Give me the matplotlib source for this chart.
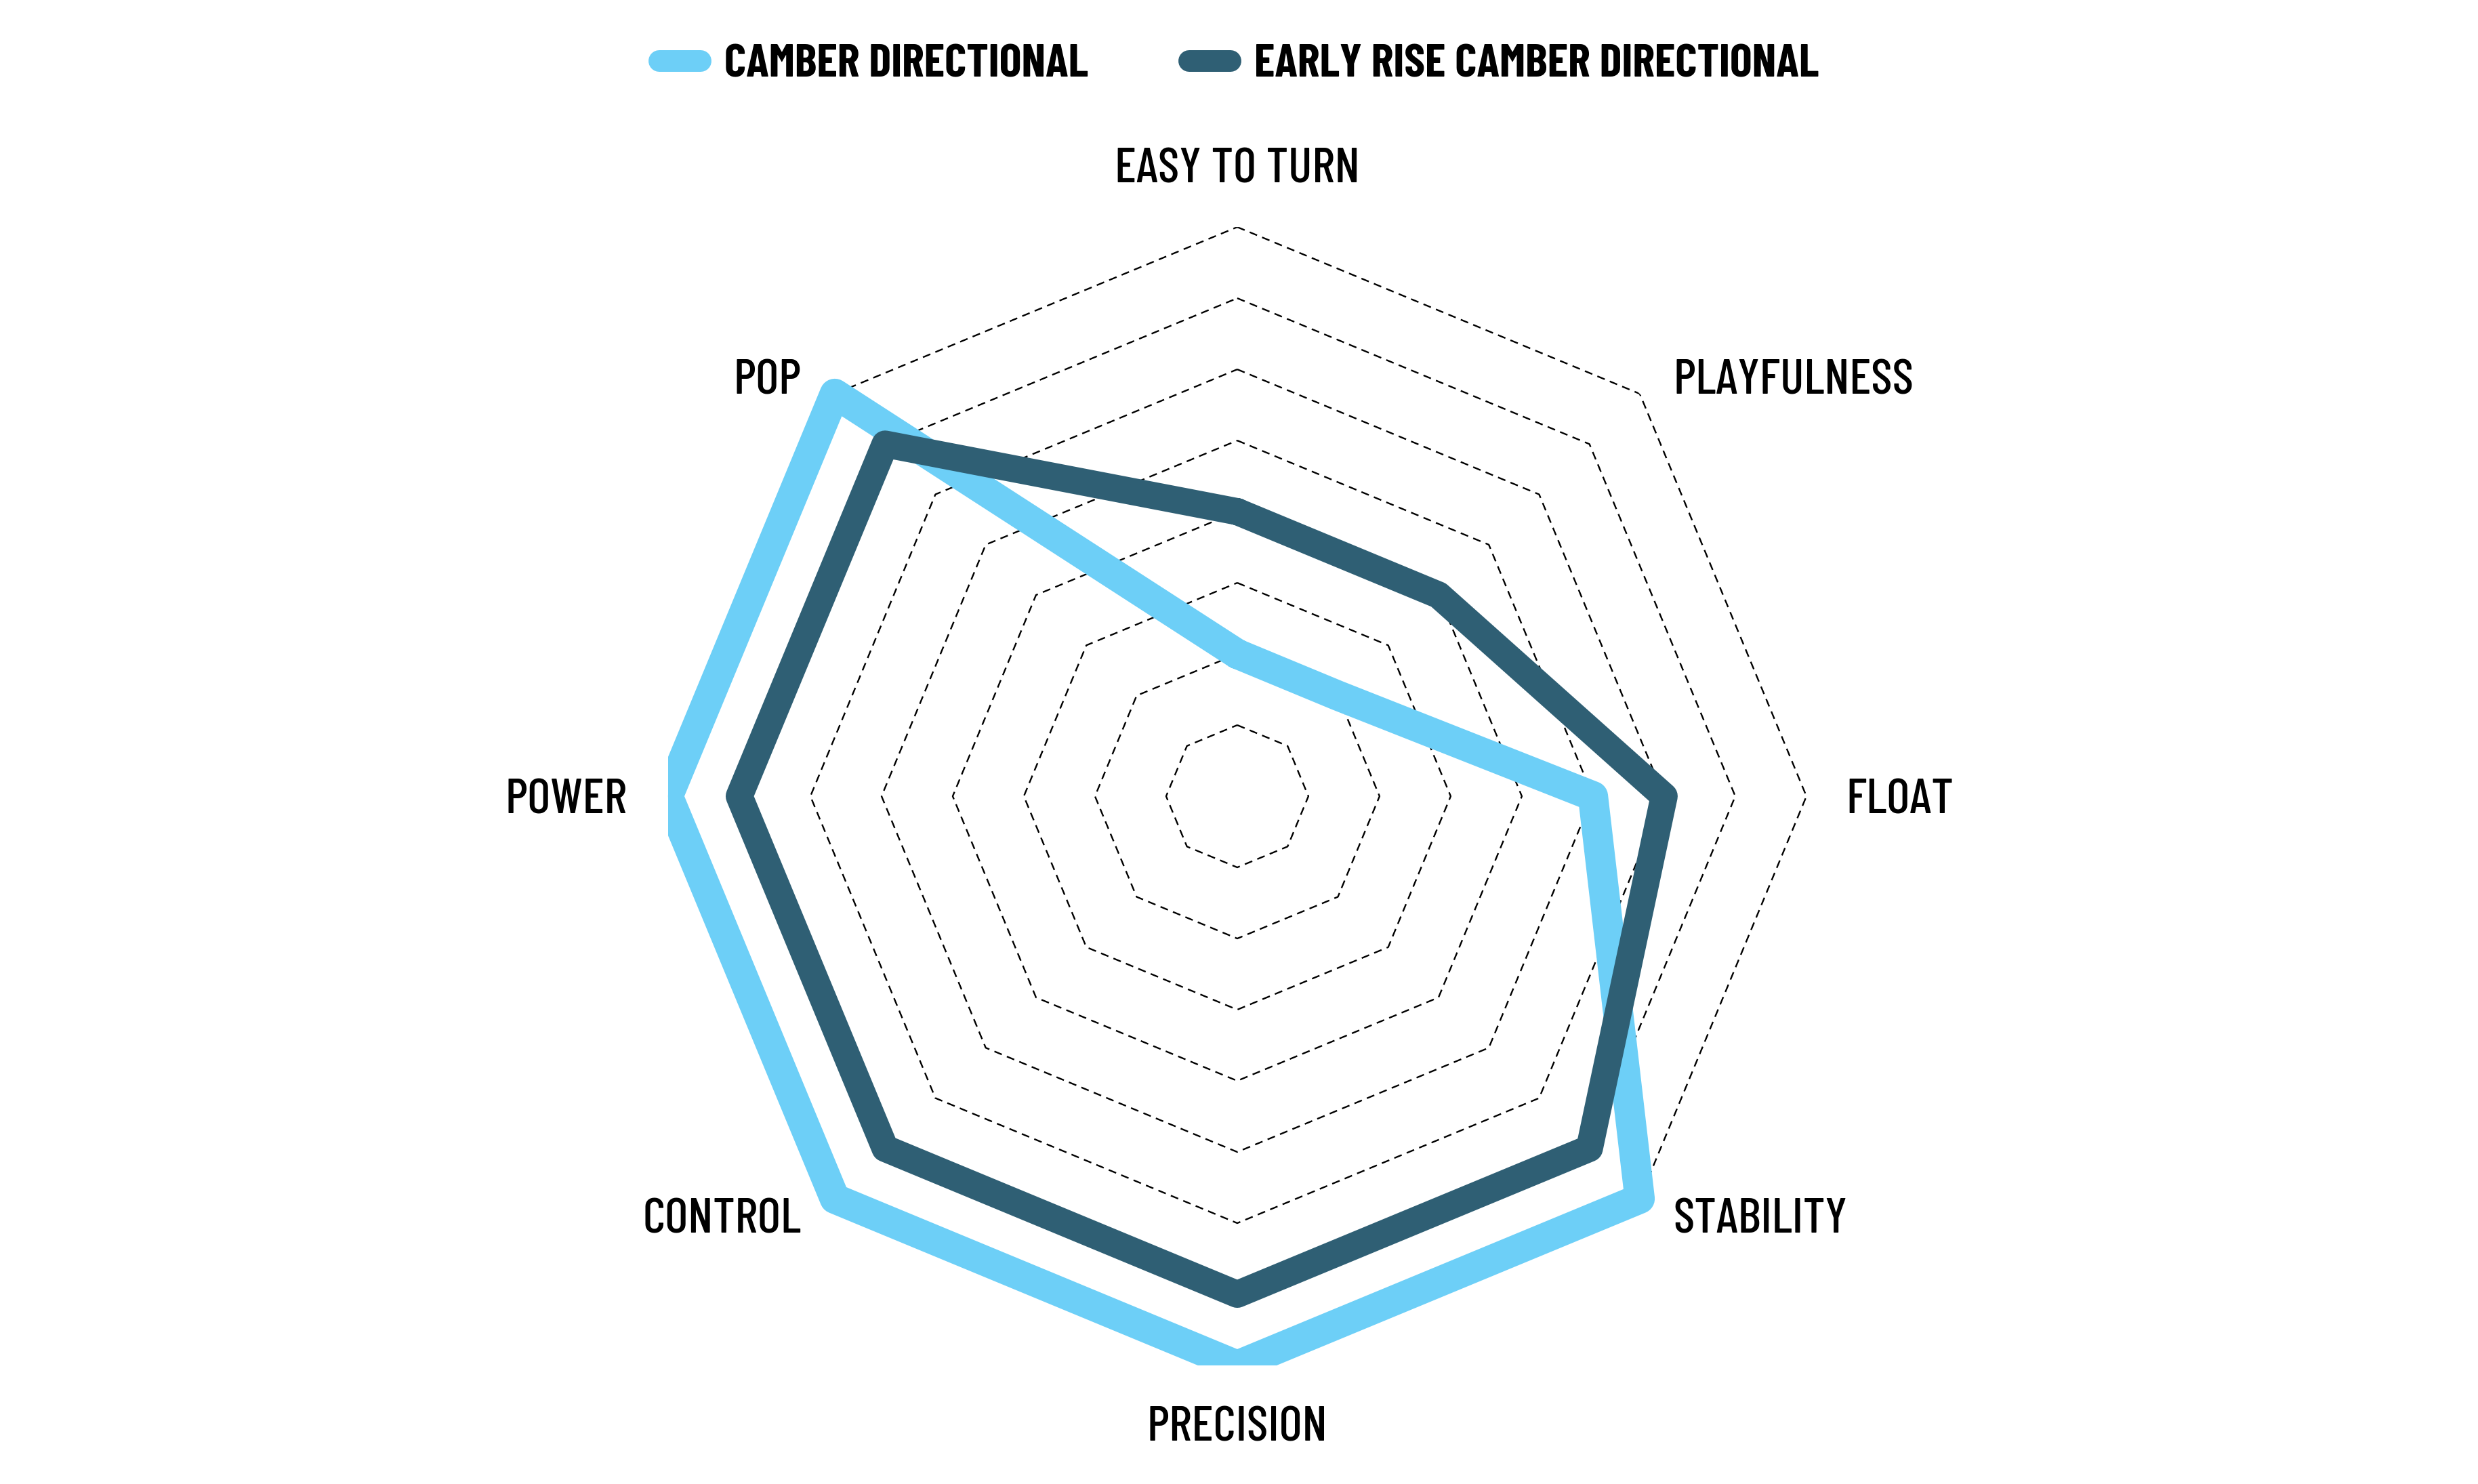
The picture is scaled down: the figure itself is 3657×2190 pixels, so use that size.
import numpy as np
import matplotlib
matplotlib.use("Agg")
import matplotlib.pyplot as plt
from matplotlib.transforms import offset_copy

plt.rcParams['font.family'] = ['Barlow Condensed', 'PT Sans Narrow', 'DejaVu Sans']

# data
axes_labels = ["EASY TO TURN", "PLAYFULNESS", "FLOAT", "STABILITY",
               "PRECISION", "CONTROL", "POWER", "POP"]
camber = [2, 2, 5, 8, 8, 8, 8, 8]
early_rise = [4, 4, 6, 7, 7, 7, 7, 7]
series_names = ["CAMBER DIRECTIONAL", "EARLY RISE CAMBER DIRECTIONAL"]
grid_levels = [1, 2, 3, 4, 5, 6, 7, 8]

light = "#6dcff7"
dark = "#2f5f74"

n = len(axes_labels)
theta = np.arange(n) * 2 * np.pi / n
theta_closed = np.append(theta, theta[0])

fig = plt.figure(figsize=(18.285, 10.95), dpi=200)
ax = fig.add_axes([0.2696, 0.0799, 0.4594, 0.7671], projection='polar')
ax.set_theta_zero_location('N')
ax.set_theta_direction(-1)
ax.set_ylim(0, 8)
ax.set_xticks([])
ax.set_yticks([])
ax.grid(False)
ax.spines['polar'].set_visible(False)

# octagon grid
for lev in grid_levels:
    ax.plot(theta_closed, [lev] * (n + 1), color='black', lw=0.85,
            linestyle=(0, (5, 3.4)), zorder=1)

l1, = ax.plot(theta_closed, camber + camber[:1], color=light, lw=16,
              solid_joinstyle='round', solid_capstyle='round', zorder=3)
l2, = ax.plot(theta_closed, early_rise + early_rise[:1], color=dark, lw=14.4,
              solid_joinstyle='round', solid_capstyle='round', zorder=4)
# clip to the square axes box only, not the circle
for ln in (l1, l2):
    ln.set_clip_path(None)
    ln.set_clip_box(ax.bbox)

# axis labels (shifted down a little so the caps sit centred)
lab_tr = offset_copy(ax.transData, fig=fig, x=0, y=-7, units='dots')
for ang, lab in zip(theta, axes_labels):
    deg = np.degrees(ang) % 360
    if deg == 0:
        ha, r, t = 'center', 8.87, deg
    elif deg == 180:
        ha, r, t = 'center', 8.82, deg
    elif deg == 90:
        ha, r, t = 'left', 8.56, deg
    elif deg == 270:
        ha, r, t = 'right', 8.58, deg
    else:
        ha = 'left' if deg < 180 else 'right'
        r = 8.50
        t = deg + (1.1 if deg in (45, 225) else -1.1)
    ax.text(np.radians(t), r, lab, ha=ha, va='center', fontsize=26.5,
            fontweight=500, color='black', clip_on=False, transform=lab_tr)

leg = fig.legend([l1, l2], series_names, loc='center',
                 bbox_to_anchor=(0.5, 1 - 96 / 2190), ncol=2, frameon=False,
                 prop={'weight': 'bold', 'size': 25},
                 handlelength=0.88, handletextpad=0.5, columnspacing=2.15)
for ln in leg.get_lines():
    ln.set_linewidth(11.5)
    ln.set_solid_capstyle('round')

fig.savefig("out.png", dpi=200, facecolor='white')
